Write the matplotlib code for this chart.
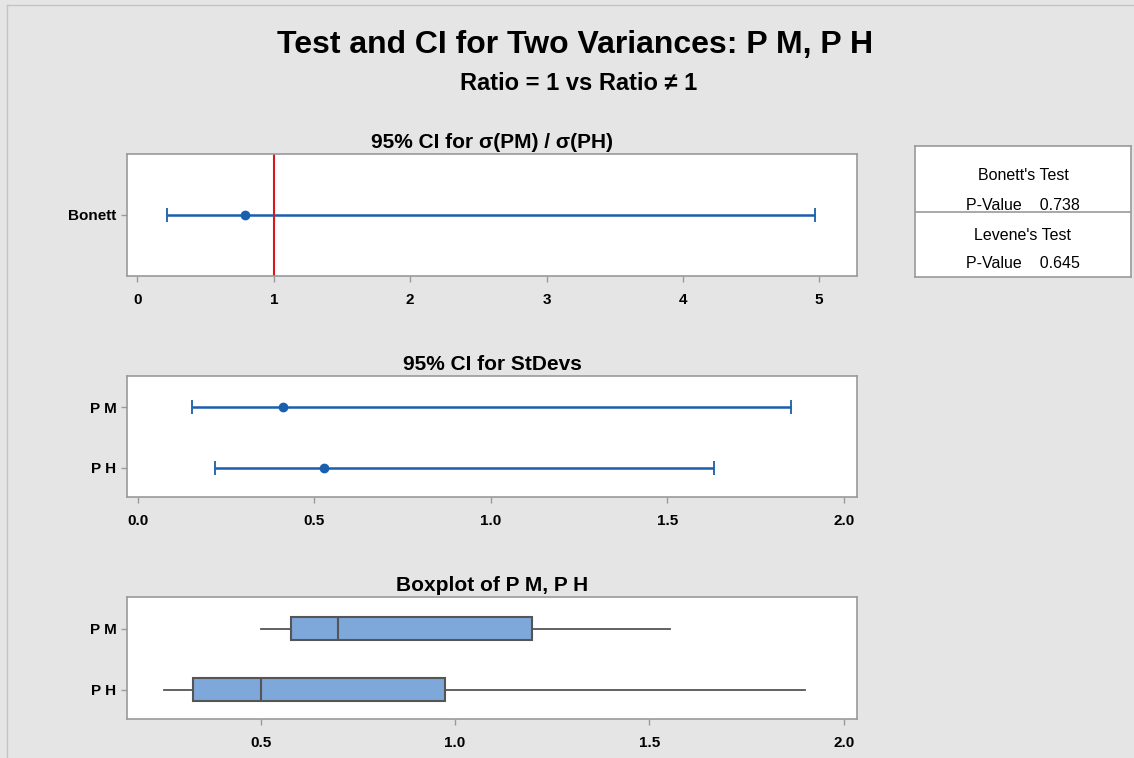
import matplotlib.pyplot as plt
from matplotlib.lines import Line2D
import numpy as np

plt.rcParams['font.family'] = ['Liberation Sans Narrow', 'Liberation Sans', 'DejaVu Sans']

# ratio CI (Bonett)
ratio_lo, ratio_est, ratio_hi = 0.22, 0.79, 4.97

# StDev CIs
groups = ['P M', 'P H']
sd_lo = [0.153, 0.220]
sd_est = [0.413, 0.529]
sd_hi = [1.849, 1.633]

# boxplot stats
box_whislo = [0.500, 0.250]
box_q1 = [0.577, 0.327]
box_med = [0.698, 0.500]
box_q3 = [1.199, 0.975]
box_whishi = [1.552, 1.899]

bonett_p = 0.738
levene_p = 0.645

blue = '#1a5fad'
bg = '#e5e5e5'
spine = '#9a9a9a'

W, H = 1134, 758
fig = plt.figure(figsize=(W / 100, H / 100), dpi=100, facecolor=bg)

# thin frame line at left/top edge
fig.add_artist(Line2D([7 / W, 7 / W], [0, 1 - 5 / H], color='#c4c4c4', lw=1))
fig.add_artist(Line2D([7 / W, 1], [1 - 5 / H, 1 - 5 / H], color='#c4c4c4', lw=1))

def add_ax(top, bottom):
    return fig.add_axes([127 / W, 1 - bottom / H, 730 / W, (bottom - top) / H])

def style(ax):
    for s in ax.spines.values():
        s.set_color(spine)
        s.set_linewidth(1.2)
    ax.tick_params(axis='both', colors=spine, length=4, width=1, labelcolor='black',
                   labelsize=11)
    ax.tick_params(axis='x', pad=8)
    for lab in ax.get_xticklabels() + ax.get_yticklabels():
        lab.set_fontweight('bold')

# panel 1: ratio
ax1 = add_ax(154, 276)
ax1.errorbar([ratio_est], [0], xerr=[[ratio_est - ratio_lo], [ratio_hi - ratio_est]],
             fmt='o', color=blue, ms=6, lw=1.8, capsize=5, capthick=1.3)
ax1.axvline(1, color='#d7191c', lw=1.5)
ax1.set_xlim(-0.077, 5.277)
ax1.set_ylim(-1, 1)
ax1.set_xticks([0, 1, 2, 3, 4, 5])
ax1.set_yticks([0])
ax1.set_yticklabels(['Bonett'])
style(ax1)
ax1.set_title('95% CI for σ(PM) / σ(PH)', fontsize=15, fontweight='bold', pad=4)

# panel 2: stdev CIs
ax2 = add_ax(376, 497)
ypos = [1, 0]
for i in range(2):
    ax2.errorbar([sd_est[i]], [ypos[i]], xerr=[[sd_est[i] - sd_lo[i]], [sd_hi[i] - sd_est[i]]],
                 fmt='o', color=blue, ms=6, lw=1.8, capsize=5, capthick=1.3)
ax2.set_xlim(-0.030, 2.037)
ax2.set_ylim(-0.48, 1.52)
ax2.set_xticks([0, 0.5, 1.0, 1.5, 2.0])
ax2.set_xticklabels(['0.0', '0.5', '1.0', '1.5', '2.0'])
ax2.set_yticks(ypos)
ax2.set_yticklabels(groups)
style(ax2)
ax2.set_title('95% CI for StDevs', fontsize=15, fontweight='bold', pad=4)

# panel 3: boxplot
ax3 = add_ax(597, 719)
stats = []
for i in range(2):
    stats.append(dict(whislo=box_whislo[i], q1=box_q1[i], med=box_med[i],
                      q3=box_q3[i], whishi=box_whishi[i], fliers=[]))
ax3.bxp(stats, positions=ypos, vert=False, widths=0.38, patch_artist=True, showcaps=False,
        boxprops=dict(facecolor='#7ea7da', edgecolor='#555555', lw=1.5),
        medianprops=dict(color='#555555', lw=1.5),
        whiskerprops=dict(color='#555555', lw=1.3))
ax3.set_xlim(0.156, 2.034)
ax3.set_ylim(-0.48, 1.52)
ax3.set_xticks([0.5, 1.0, 1.5, 2.0])
ax3.set_xticklabels(['0.5', '1.0', '1.5', '2.0'])
ax3.set_yticks(ypos)
ax3.set_yticklabels(groups)
style(ax3)
ax3.set_title('Boxplot of P M, P H', fontsize=15, fontweight='bold', pad=4)

# titles
fig.text(575 / W, 1 - 45 / H, 'Test and CI for Two Variances: P M, P H', ha='center', va='center',
         fontsize=23, fontweight='bold')
fig.text(579 / W, 1 - 83 / H, 'Ratio = 1 vs Ratio ≠ 1', ha='center', va='center',
         fontsize=17, fontweight='bold')

# p-value box
axl = fig.add_axes([915 / W, 1 - 277 / H, 216 / W, 131 / H])
axl.set_xlim(0, 1)
axl.set_ylim(0, 1)
axl.set_xticks([])
axl.set_yticks([])
for s in axl.spines.values():
    s.set_color(spine)
    s.set_linewidth(1.2)
axl.axhline(1 - (212 - 146) / 131, color=spine, lw=1.2)
axl.text(0.5, 1 - (175 - 146) / 131, "Bonett's Test", ha='center', va='center', fontsize=11.5)
axl.text(0.5, 1 - (205 - 146) / 131, 'P-Value    %.3f' % bonett_p, ha='center', va='center', fontsize=11.5)
axl.text(0.5, 1 - (236 - 146) / 131, "Levene's Test", ha='center', va='center', fontsize=11.5)
axl.text(0.5, 1 - (264 - 146) / 131, 'P-Value    %.3f' % levene_p, ha='center', va='center', fontsize=11.5)

fig.savefig('out.png', dpi=100, facecolor=bg)
